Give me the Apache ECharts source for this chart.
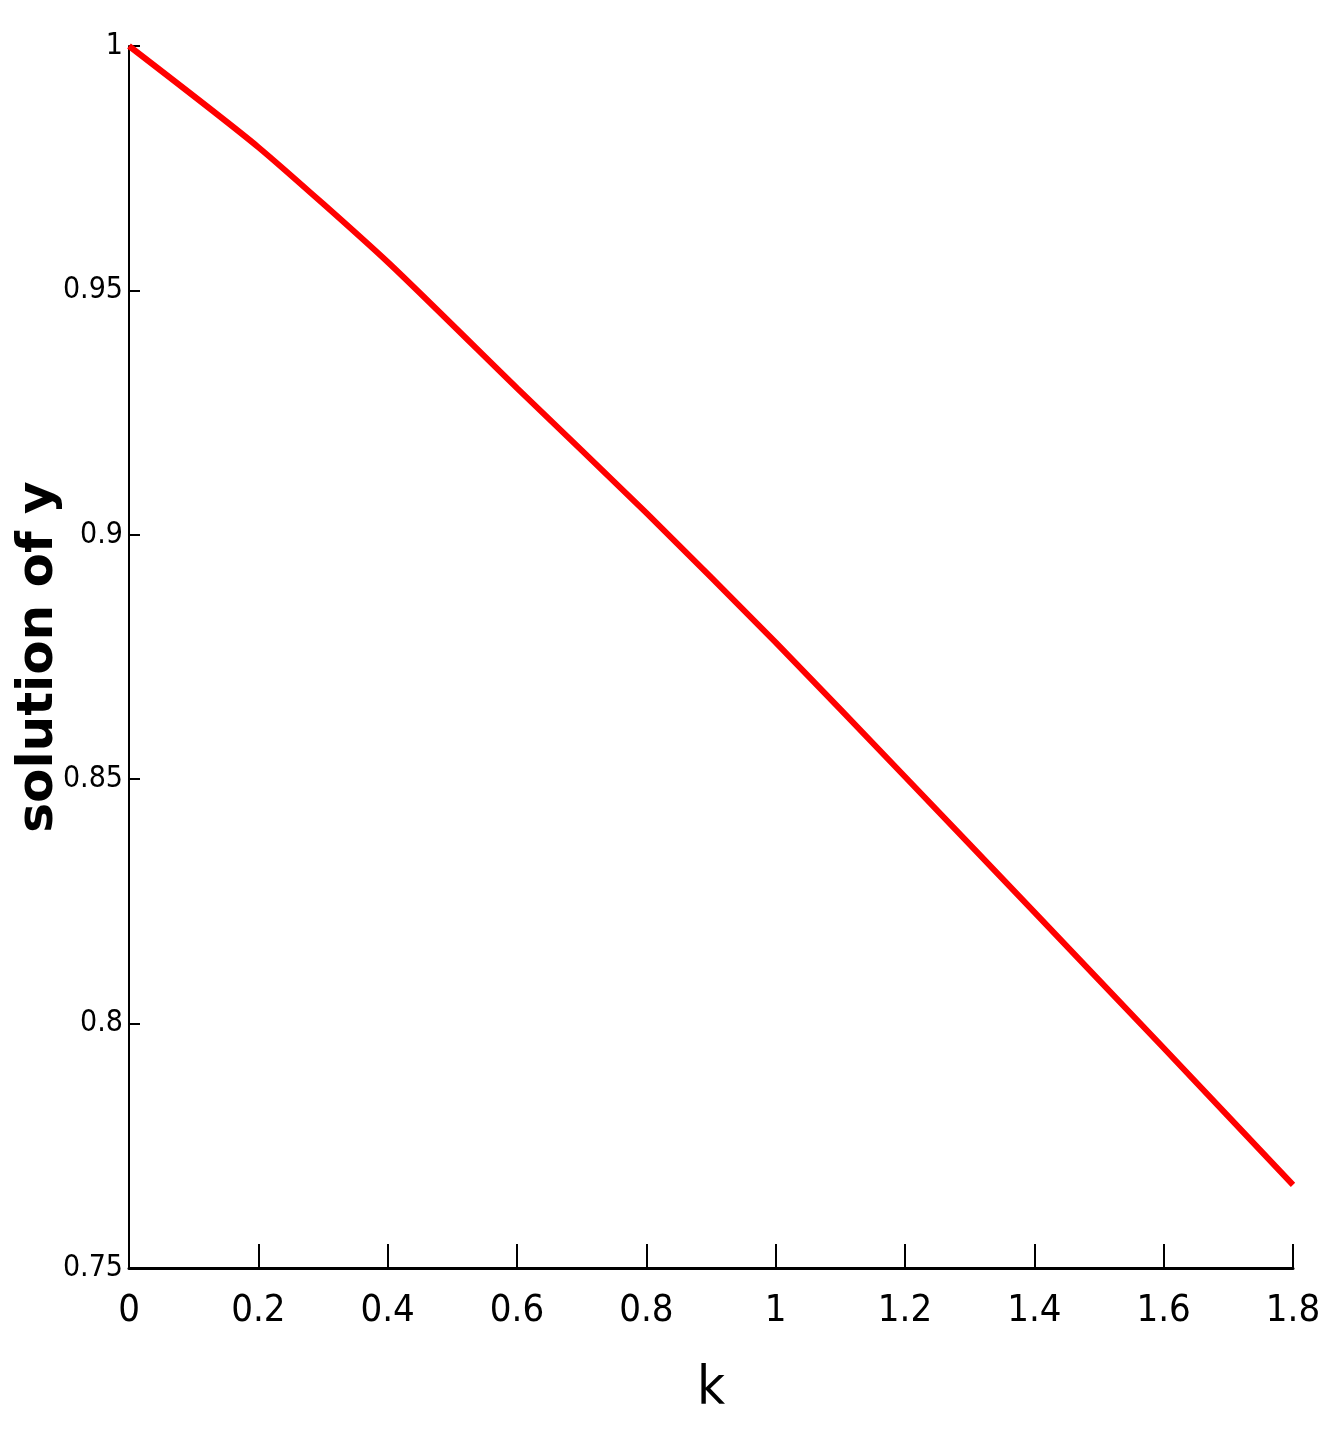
<!DOCTYPE html>
<html>
<head>
<meta charset="utf-8">
<script src="https://cdn.jsdelivr.net/npm/echarts@6/dist/echarts.min.js"></script>
<style>
  html, body { margin: 0; padding: 0; background: #fff; }
  #main { width: 1335px; height: 1433px; }
</style>
</head>
<body>
<div id="main"></div>
<script>
// values
const kValues = [0, 0.2, 0.4, 0.6, 0.8, 1.0, 1.2, 1.4, 1.6, 1.8];
const yValues = [1.0, 0.9793, 0.9558, 0.930, 0.9045, 0.878, 0.8505, 0.8228, 0.795, 0.767];

const narrow = '"Liberation Sans Narrow", "DejaVu Sans Condensed", "Liberation Sans", sans-serif';

let chart = echarts.init(document.getElementById('main'));

let option = {
  backgroundColor: '#fff',
  animation: false,
  grid: {
    left: 129, top: 46, right: 42, bottom: 165,
    containLabel: false,
    outerBoundsMode: 'none'
  },
  xAxis: {
    type: 'value',
    min: 0,
    max: 1.8,
    interval: 0.2,
    name: 'k',
    nameLocation: 'middle',
    nameGap: 95,
    nameMoveOverlap: false,
    nameTextStyle: { color: '#000', fontFamily: narrow, fontSize: 54 },
    axisLine: { show: true, onZero: false, lineStyle: { color: '#000', width: 3 } },
    axisTick: { show: true, inside: true, length: 24, lineStyle: { color: '#000', width: 2 } },
    axisLabel: {
      color: '#000',
      fontFamily: narrow,
      fontSize: 38,
      margin: 24,
      formatter: (v) => String(+v.toFixed(1))
    },
    splitLine: { show: false }
  },
  yAxis: {
    type: 'value',
    min: 0.75,
    max: 1,
    interval: 0.05,
    name: 'solution of y',
    nameLocation: 'middle',
    nameGap: 65,
    nameMoveOverlap: false,
    nameTextStyle: { color: '#000', fontFamily: '"DejaVu Sans", sans-serif', fontWeight: 'bold', fontSize: 50 },
    axisLine: { show: true, onZero: false, lineStyle: { color: '#000', width: 2 } },
    axisTick: { show: true, inside: true, length: 11, lineStyle: { color: '#000', width: 2 } },
    axisLabel: {
      color: '#000',
      fontFamily: narrow,
      fontSize: 30,
      margin: 6,
      formatter: (v) => String(+v.toFixed(2))
    },
    splitLine: { show: false }
  },
  series: [
    {
      type: 'line',
      data: kValues.map((k, i) => [k, yValues[i]]),
      showSymbol: false,
      smooth: 0.2,
      lineStyle: { color: '#ff0000', width: 6 },
      itemStyle: { color: '#ff0000' }
    }
  ]
};

option && chart.setOption(option);
</script>
</body>
</html>
